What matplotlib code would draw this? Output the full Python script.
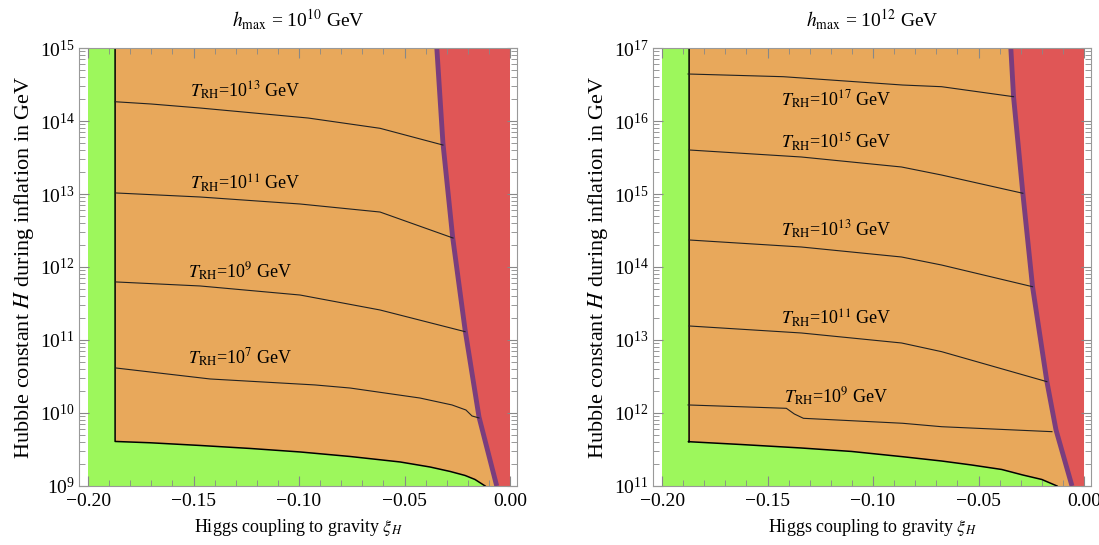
import numpy as np
import matplotlib
matplotlib.use("Agg")
import matplotlib.pyplot as plt
from matplotlib.ticker import (FixedLocator, LogLocator, LogFormatterMathtext,
                               MultipleLocator, FuncFormatter, NullFormatter)

plt.rcParams['font.family'] = ['Liberation Serif', 'DejaVu Serif']
plt.rcParams['mathtext.fontset'] = 'stix'

# colours
GREEN = '#9DF75C'
ORANGE = '#E8A85B'
RED = '#E05656'
PURPLE = '#7A3D7E'

# ---- left panel: h_max = 1e10 GeV (values are log10 H) ----
L_wall = -0.1872
L_bottom_xi = [-0.1872, -0.1706, -0.1469, -0.1232, -0.0995, -0.0758, -0.0521,
               -0.0379, -0.0284, -0.0213, -0.0166, -0.0118]
L_bottom_lh = [9.610, 9.592, 9.555, 9.514, 9.466, 9.404, 9.329,
               9.260, 9.199, 9.144, 9.089, 9.0]
L_purple_xi = [-0.0347, -0.0318, -0.0272, -0.0213, -0.0147, -0.0063]
L_purple_lh = [15.0, 13.70, 12.41, 11.14, 9.945, 9.0]
L_contours = {
    13: ([-0.1872, -0.1701, -0.1469, -0.0957, -0.0616, -0.0318],
         [14.264, 14.233, 14.178, 14.041, 13.900, 13.671]),
    11: ([-0.1867, -0.1469, -0.0995, -0.0616, -0.0270],
         [13.014, 12.959, 12.863, 12.753, 12.397]),
    9: ([-0.1867, -0.1469, -0.0995, -0.0616, -0.0213],
        [11.795, 11.740, 11.616, 11.411, 11.114]),
    7: ([-0.1867, -0.1422, -0.0924, -0.0758, -0.0427, -0.0275, -0.0209, -0.0180, -0.0147],
        [10.616, 10.466, 10.384, 10.342, 10.205, 10.110, 10.041, 9.959, 9.932]),
}
L_label_pos = {13: (-0.1256, 14.42), 11: (-0.1256, 13.15), 9: (-0.128, 11.93), 7: (-0.128, 10.75)}

# ---- right panel: h_max = 1e12 GeV ----
R_wall = -0.1872
R_bottom_xi = [-0.1876, -0.1625, -0.1344, -0.1102, -0.0860, -0.0675, -0.0534,
               -0.0390, -0.0291, -0.0200, -0.0128]
R_bottom_lh = [11.607, 11.568, 11.521, 11.473, 11.401, 11.342, 11.288,
               11.226, 11.151, 11.089, 11.0]
R_purple_xi = [-0.0347, -0.0334, -0.0290, -0.0244, -0.0176, -0.0133, -0.0057]
R_purple_lh = [17.0, 16.33, 15.01, 13.73, 12.43, 11.77, 11.0]
R_contours = {
    17: ([-0.1877, -0.1425, -0.0860, -0.0675, -0.0334],
         [16.644, 16.607, 16.493, 16.470, 16.333]),
    15: ([-0.1872, -0.1340, -0.0865, -0.0675, -0.0290],
         [15.603, 15.507, 15.370, 15.260, 15.010]),
    13: ([-0.1872, -0.1340, -0.0865, -0.0675, -0.0244],
         [14.370, 14.274, 14.137, 14.027, 13.730]),
    11: ([-0.1872, -0.1340, -0.0865, -0.0675, -0.0176],
         [13.192, 13.096, 12.959, 12.840, 12.429]),
    9: ([-0.1877, -0.1411, -0.1373, -0.1330, -0.0860, -0.0675, -0.0152],
        [12.110, 12.064, 11.986, 11.927, 11.859, 11.812, 11.744]),
}
R_label_pos = {17: (-0.1173, 16.29), 15: (-0.1173, 15.71), 13: (-0.1173, 14.51),
               11: (-0.1173, 13.30), 9: (-0.1173, 12.22)}


def xfmt(v, pos):
    return ('%.2f' % v).replace('-', '\u2212')


def panel(ax, ymin, ymax, wall, bxi, blh, pxi, plh, contours, label_pos, hexp):
    lo, hi = 10.0**ymin, 10.0**ymax
    bH = 10.0**np.array(blh)
    pH = 10.0**np.array(plh)
    # green background
    ax.fill([-0.2, 0.0, 0.0, -0.2], [lo, lo, hi, hi], color=GREEN, lw=0)
    # orange region
    ox = [wall] + list(bxi) + [bxi[-1], pxi[-1]] + list(pxi[::-1])
    oy = [hi] + list(bH) + [lo, lo] + list(pH[::-1])
    ax.fill(ox, oy, color=ORANGE, lw=0)
    # red region
    rx = list(pxi) + [0.0, 0.0]
    ry = list(pH) + [lo, hi]
    ax.fill(rx, ry, color=RED, lw=0)
    # boundaries
    ax.plot([wall, wall] + list(bxi), [hi, bH[0]] + list(bH), color='black', lw=1.1)
    ax.plot(pxi, pH, color=PURPLE, lw=3.5, solid_capstyle='butt')
    for k, (cx, cl) in contours.items():
        ax.plot(cx, 10.0**np.array(cl), color='#222222', lw=0.8)
        tx, ty = label_pos[k]
        ax.text(tx, 10.0**ty, r'$T_{\rm RH}$=10$^{%d}$ GeV' % k,
                ha='center', va='center', fontsize=13)

    ax.set_yscale('log')
    ax.set_xlim(-0.2043, 0.0033)
    ax.set_ylim(lo, hi)
    ax.xaxis.set_major_locator(MultipleLocator(0.05))
    ax.xaxis.set_minor_locator(MultipleLocator(0.01))
    ax.xaxis.set_major_formatter(FuncFormatter(xfmt))
    ax.yaxis.set_major_locator(FixedLocator(10.0**np.arange(ymin, ymax + 1)))
    ax.yaxis.set_minor_locator(LogLocator(base=10, subs=np.arange(2, 10), numticks=20))
    ax.yaxis.set_major_formatter(LogFormatterMathtext())
    ax.yaxis.set_minor_formatter(NullFormatter())
    ax.tick_params(which='both', direction='in', top=True, right=True,
                   color='#888888', labelsize=14)
    ax.tick_params(which='major', length=7, width=0.8)
    ax.tick_params(which='minor', length=4, width=0.6)
    ax.tick_params(axis='x', pad=5)
    ax.tick_params(axis='y', pad=3)
    for s in ax.spines.values():
        s.set_color('#999999')
        s.set_linewidth(0.8)
    ax.set_title(r'$h_{\rm max}$ = 10$^{%d}$ GeV' % hexp, fontsize=14, pad=15)
    ax.set_xlabel(r'Higgs coupling to gravity $\xi_H$', fontsize=13, labelpad=5)
    ax.set_ylabel(r'Hubble constant $H$ during inflation in GeV', fontsize=16, labelpad=3)


fig = plt.figure(figsize=(10.99, 5.45), dpi=100)
ax1 = fig.add_axes([0.0719, 0.1083, 0.3985, 0.8036])
ax2 = fig.add_axes([0.5942, 0.1083, 0.3985, 0.8036])

panel(ax1, 9, 15, L_wall, L_bottom_xi, L_bottom_lh, L_purple_xi, L_purple_lh,
      L_contours, L_label_pos, 10)
panel(ax2, 11, 17, R_wall, R_bottom_xi, R_bottom_lh, R_purple_xi, R_purple_lh,
      R_contours, R_label_pos, 12)

fig.savefig('out.png', dpi=100)
